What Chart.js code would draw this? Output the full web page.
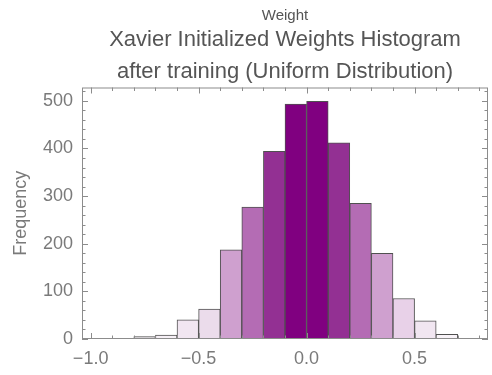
<!DOCTYPE html>
<html>
<head>
<meta charset="utf-8">
<script src="https://cdn.jsdelivr.net/npm/chart.js@4.4.0/dist/chart.umd.min.js"></script>
<style>
  html, body { margin: 0; padding: 0; background: #fff; }
  #wrap { width: 492px; height: 375px; }
</style>
</head>
<body>
<div id="wrap"><canvas id="hist"></canvas></div>
<script>
// bin centres (bins are 0.1 wide) and counts
var binCenters = [-0.75, -0.65, -0.55, -0.45, -0.35, -0.25, -0.15, -0.05, 0.05, 0.15, 0.25, 0.35, 0.45, 0.55, 0.65];
var counts     = [5, 8, 40, 63, 187, 277, 394, 493, 499, 412, 285, 180, 85, 38, 10];
var xTickVals  = [-1.0, -0.5, 0.0, 0.5];
var yTickVals  = [0, 100, 200, 300, 400, 500];

// shade of each bar (lighter for short bars)
var barColors = ['#f8f3f8', '#f6f0f6', '#f1e6f1', '#ebdceb', '#cfa0cf', '#b46cb4', '#933093', '#800080',
                 '#800080', '#933093', '#b46cb4', '#cfa0cf', '#e8d1e8', '#f1e6f1', '#f8f3f8'];

var grey = '#8c8c8c';
var font = 'Liberation Sans, Arial, sans-serif';

// frame with inward ticks, like the Mathematica frame
var framePlugin = {
  id: 'frame',
  afterDraw: function (chart) {
    var ctx = chart.ctx, a = chart.chartArea;
    var sx = chart.scales.x, sy = chart.scales.y;
    ctx.save();
    ctx.strokeStyle = grey;
    ctx.lineWidth = 1;
    ctx.strokeRect(a.left + 0.5, a.top + 0.5, a.right - a.left - 1, a.bottom - a.top - 1);
    ctx.beginPath();
    // x ticks every 0.1, longer every 0.5
    for (var i = -10; i <= 8; i++) {
      var v = i / 10;
      var px = Math.round(sx.getPixelForValue(v)) + 0.5;
      var len = (i % 5 === 0) ? 6 : 3.5;
      ctx.moveTo(px, a.bottom); ctx.lineTo(px, a.bottom - len);
      ctx.moveTo(px, a.top); ctx.lineTo(px, a.top + len);
    }
    // y ticks every 20, longer every 100
    for (var j = 0; j <= 520; j += 20) {
      var py = Math.round(sy.getPixelForValue(j)) + 0.5;
      var l2 = (j % 100 === 0) ? 6 : 3.5;
      ctx.moveTo(a.left, py); ctx.lineTo(a.left + l2, py);
      ctx.moveTo(a.right, py); ctx.lineTo(a.right - l2, py);
    }
    ctx.stroke();
    ctx.restore();
  }
};

var ctx = document.getElementById('hist').getContext('2d');
var chart = new Chart(ctx, {
  type: 'bar',
  data: {
    datasets: [{
      data: binCenters.map(function (c, i) { return { x: c, y: counts[i] }; }),
      backgroundColor: barColors,
      borderColor: '#505050',
      borderWidth: 1,
      barPercentage: 1,
      categoryPercentage: 1,
      grouped: false
    }]
  },
  options: {
    responsive: true,
    maintainAspectRatio: false,
    animation: false,
    layout: { padding: { top: 0, right: 4, bottom: 0, left: 0 } },
    plugins: {
      legend: { display: false },
      tooltip: { enabled: false },
      title: {
        display: true,
        fullSize: false,
        text: 'Weight',
        color: '#555',
        font: { family: font, size: 15, weight: 'normal', lineHeight: 1.1 },
        padding: { top: 8, bottom: 0 }
      },
      subtitle: {
        display: true,
        fullSize: false,
        text: ['Xavier Initialized Weights Histogram', 'after training (Uniform Distribution)'],
        color: '#555',
        font: { family: font, size: 22, weight: 'normal', lineHeight: '31.5px' },
        padding: { top: 0, bottom: 0 }
      }
    },
    scales: {
      x: {
        type: 'linear',
        min: -1.04,
        max: 0.84,
        offset: false,
        grid: { display: false, drawTicks: false },
        border: { display: false },
        afterBuildTicks: function (s) { s.ticks = xTickVals.map(function (v) { return { value: v }; }); },
        afterFit: function (s) { s.height = 36; },
        ticks: {
          color: '#7a7a7a',
          padding: 9,
          maxRotation: 0,
          font: { family: font, size: 18 },
          callback: function (v) { return (v < 0 ? '\u2212' : '') + Math.abs(v).toFixed(1); }
        }
      },
      y: {
        min: 0,
        max: 528,
        grid: { display: false, drawTicks: false },
        border: { display: false },
        afterBuildTicks: function (s) { s.ticks = yTickVals.map(function (v) { return { value: v }; }); },
        afterFit: function (s) { s.width = 82; },
        ticks: {
          color: '#7a7a7a',
          padding: 9,
          font: { family: font, size: 18 }
        },
        title: {
          display: true,
          text: 'Frequency',
          color: '#7a7a7a',
          font: { family: font, size: 18 },
          padding: { top: 10, bottom: 0 }
        }
      }
    }
  },
  plugins: [framePlugin]
});
</script>
</body>
</html>
